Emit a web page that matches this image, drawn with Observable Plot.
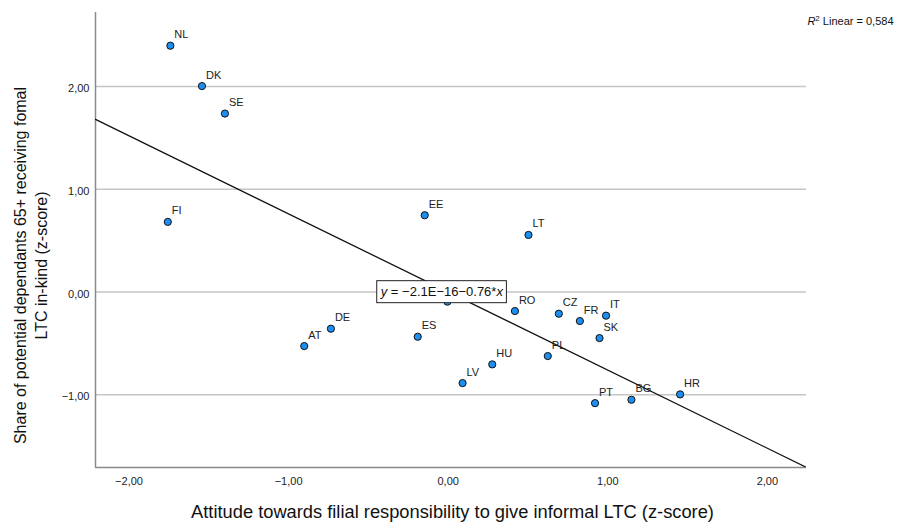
<!DOCTYPE html>
<html>
<head>
<meta charset="utf-8">
<script src="https://cdn.jsdelivr.net/npm/d3@7"></script>
<script src="https://cdn.jsdelivr.net/npm/@observablehq/plot@0.6"></script>
<style>
  body { margin: 0; background: #fff; }
  #chart svg { display: block; }
</style>
</head>
<body>
<div id="chart"></div>
<script>
// ---- data ----
const countries  = ["NL", "DK", "SE", "FI", "EE", "LT", "", "RO", "CZ", "FR", "IT", "SK", "ES", "PL", "HU", "LV", "PT", "BG", "HR", "AT", "DE"];
const attitude   = [-1.741, -1.543, -1.399, -1.757, -0.147, 0.503, -0.005, 0.418, 0.693, 0.825, 0.989, 0.948, -0.191, 0.624, 0.276, 0.090, 0.920, 1.148, 1.453, -0.902, -0.735];
const formalCare = [2.396, 2.003, 1.736, 0.682, 0.747, 0.555, -0.094, -0.185, -0.211, -0.282, -0.230, -0.448, -0.435, -0.623, -0.704, -0.886, -1.081, -1.048, -0.996, -0.526, -0.357];

const xTicks = [-2, -1, 0, 1, 2];
const yTicks = [-1, 0, 1, 2];
const xDomain = [-2.21, 2.245];
const yDomain = [-1.707, 2.719];

const intercept = -2.1e-16;
const slope = -0.76;
const eqText = "y = −2.1E−16−0.76*x";
const r2Text = "R2 Linear = 0,584";
const xTitle = "Attitude towards filial responsibility to give informal LTC (z-score)";
const yTitle1 = "Share of potential dependants 65+ receiving fomal";
const yTitle2 = "LTC in-kind (z-score)";

// ---- build tables ----
const points = countries.map((c, i) => ({code: c, x: attitude[i], y: formalCare[i]}));
const labelled = points.filter(d => d.code !== "");
const regLine = xDomain.map(x => ({x, y: intercept + slope * x}));
const eqPos = [{x: -0.04, y: 0}];

const fmt = d => (d < 0 ? "−" : "") + Math.abs(d).toFixed(2).replace(".", ",");

const chart = Plot.plot({
  width: 899,
  height: 522,
  marginLeft: 95,
  marginRight: 93,
  marginTop: 12,
  marginBottom: 55,
  style: {fontFamily: "'Liberation Sans', Arial, sans-serif", fontSize: "11px", color: "#222", background: "#fff", overflow: "visible"},
  x: {domain: xDomain},
  y: {domain: yDomain},
  marks: [
    Plot.gridY(yTicks, {stroke: "#c6c6c6", strokeOpacity: 1, strokeWidth: 1.5}),
    Plot.ruleX([xDomain[0]], {stroke: "#8a8a8a", strokeWidth: 1.5}),
    Plot.ruleY([yDomain[0]], {stroke: "#8a8a8a", strokeWidth: 1.5}),
    Plot.axisX(xTicks, {tickSize: 0, tickPadding: 10, tickFormat: fmt, label: null}),
    Plot.axisY(yTicks, {tickSize: 0, tickPadding: 6, tickFormat: fmt, label: null, dy: 2}),
    Plot.dot(points, {x: "x", y: "y", r: 3.6, fill: "#1d8ff0", stroke: "#111", strokeWidth: 1}),
    Plot.text(labelled, {x: "x", y: "y", text: "code", dx: 4, dy: -11, textAnchor: "start", fontSize: 11, fill: "#222"}),
    Plot.line(regLine, {x: "x", y: "y", stroke: "#111", strokeWidth: 1.3, clip: true}),
    Plot.text(eqPos, {x: "x", y: "y", text: () => eqText, fontSize: 13, fill: "#111", textAnchor: "middle", lineAnchor: "middle"}),
    Plot.text([r2Text], {frameAnchor: "top-right", dx: 87, dy: 9, textAnchor: "end", lineAnchor: "middle", fontSize: 11, fill: "#111"}),
    Plot.text([xTitle], {frameAnchor: "bottom", dx: 1.5, dy: 45, textAnchor: "middle", lineAnchor: "middle", fontSize: 18.3, fill: "#111"}),
    Plot.text([yTitle1], {frameAnchor: "left", rotate: -90, dx: -75, dy: 25.5, textAnchor: "middle", lineAnchor: "middle", fontSize: 16, fill: "#111"}),
    Plot.text([yTitle2], {frameAnchor: "left", rotate: -90, dx: -54, dy: 25.5, textAnchor: "middle", lineAnchor: "middle", fontSize: 16, fill: "#111"})
  ]
});

document.getElementById("chart").append(chart);

// ---- rich-text touches: italic y/x with a boxed equation, R² superscript ----
const NS = "http://www.w3.org/2000/svg";
function tspan(txt, attrs = {}) {
  const s = document.createElementNS(NS, "tspan");
  for (const k in attrs) s.setAttribute(k, attrs[k]);
  s.textContent = txt;
  return s;
}
chart.querySelectorAll("text").forEach(t => {
  if (t.textContent === eqText) {
    t.textContent = "";
    t.append(tspan("y", {"font-style": "italic"}), tspan(" = −2.1E−16−0.76*"), tspan("x", {"font-style": "italic"}));
    const bb = t.getBBox();
    const rect = document.createElementNS(NS, "rect");
    rect.setAttribute("x", bb.x - 3);
    rect.setAttribute("y", bb.y - 3.5);
    rect.setAttribute("width", bb.width + 6);
    rect.setAttribute("height", bb.height + 7);
    rect.setAttribute("fill", "#fff");
    rect.setAttribute("stroke", "#222");
    rect.setAttribute("stroke-width", "1");
    if (t.getAttribute("transform")) rect.setAttribute("transform", t.getAttribute("transform"));
    t.parentNode.insertBefore(rect, t);
  } else if (t.textContent === r2Text) {
    t.textContent = "";
    t.append(tspan("R", {"font-style": "italic"}), tspan("2", {"font-size": "8", dy: "-4"}), tspan(" Linear = 0,584", {dy: "4"}));
  }
});
</script>
</body>
</html>
